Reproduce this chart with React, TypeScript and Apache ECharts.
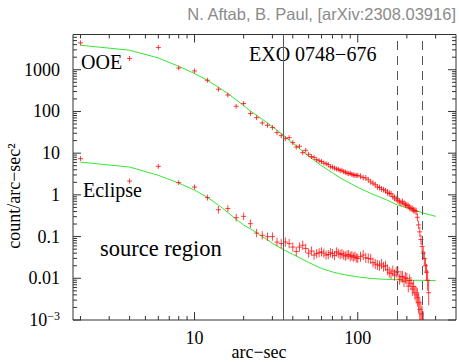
import React, { useEffect, useRef } from "react";
import * as echarts from "echarts";

// Radial bins (arc-sec)
const radii = [
  2, 4, 6, 8, 10, 12, 14, 16, 18, 20,
  22, 24, 26, 28, 30, 32, 34, 36, 38, 40, 42, 44, 46, 48, 50,
  52, 54, 56, 58, 60, 62, 64, 66, 68, 70, 72, 74, 76, 78, 80,
  82, 84, 86, 88, 90, 92, 94, 96, 98, 100,
  104, 108, 112, 116, 120, 124, 128, 132, 136, 140, 144, 148, 152, 156, 160,
  164, 168, 172, 176, 180, 184, 188, 192, 196, 200, 204, 208, 212, 216, 220, 224,
  228, 232, 236, 240, 244, 248, 252, 256, 260, 264, 268, 272,
];

// OOE (out-of-eclipse) surface brightness, count/arc-sec^2
const ooeCounts = [
  4400, 1860, 3410, 1100, 936, 560, 340, 248, 133, 155,
  89, 71, 53, 46.5, 41, 31, 26.3, 22.3, 23.6, 17.9, 14.0, 14.6, 10.3, 11.7, 9.4,
  8.3, 7.9, 7.0, 6.6, 6.3, 5.8, 5.6, 5.3, 4.7, 4.65, 4.4, 4.2, 4.1, 3.8, 3.9,
  3.6, 3.5, 3.3, 3.25, 3.3, 3.1, 3.0, 2.95, 2.9, 2.94,
  2.8, 2.6, 2.55, 2.3, 2.05, 1.9, 1.75, 1.55, 1.5, 1.38, 1.33, 1.25, 1.15, 1.08, 1.05,
  0.92, 0.85, 0.8, 0.74, 0.7, 0.64, 0.68, 0.62, 0.58, 0.56, 0.54, 0.5, 0.47, 0.46, 0.43, 0.42,
  0.4, 0.29, 0.19, 0.13, 0.085, 0.058, 0.04, 0.03, 0.02, 0.014, 0.009, 0.0045,
];
const ooeErrDex = [
  0.02, 0.03, 0.02, 0.03, 0.03, 0.03, 0.03, 0.03, 0.04, 0.04,
  0.04, 0.04, 0.05, 0.05, 0.05, 0.05, 0.05, 0.05, 0.05, 0.05, 0.05, 0.05, 0.06, 0.06, 0.06,
  0.06, 0.06, 0.06, 0.06, 0.06, 0.06, 0.06, 0.06, 0.06, 0.06, 0.06, 0.06, 0.06, 0.06, 0.06,
  0.06, 0.06, 0.06, 0.06, 0.06, 0.06, 0.06, 0.06, 0.06, 0.06,
  0.07, 0.07, 0.07, 0.07, 0.07, 0.07, 0.07, 0.07, 0.07, 0.07, 0.07, 0.07, 0.08, 0.08, 0.08,
  0.08, 0.08, 0.08, 0.08, 0.08, 0.08, 0.08, 0.08, 0.08, 0.08, 0.08, 0.08, 0.08, 0.08, 0.08, 0.08,
  0.09, 0.1, 0.1, 0.12, 0.12, 0.14, 0.15, 0.17, 0.18, 0.2, 0.25, 0.3,
];

// Eclipse surface brightness, count/arc-sec^2
const eclipseCounts = [
  7.4, 2.14, 4.83, 1.96, 1.54, 0.86, 0.44, 0.47, 0.284, 0.305,
  0.204, 0.121, 0.107, 0.099, 0.1, 0.074, 0.068, 0.074, 0.068, 0.056, 0.044, 0.056, 0.062, 0.052, 0.04,
  0.045, 0.036, 0.039, 0.041, 0.043, 0.04, 0.036, 0.037, 0.041, 0.039, 0.035, 0.043, 0.04, 0.037, 0.039,
  0.036, 0.034, 0.036, 0.037, 0.033, 0.035, 0.032, 0.034, 0.031, 0.03,
  0.033, 0.036, 0.031, 0.03, 0.029, 0.024, 0.022, 0.021, 0.02, 0.022, 0.019, 0.02, 0.016, 0.014, 0.013,
  0.015, 0.012, 0.014, 0.0143, 0.0095, 0.011, 0.0108, 0.0085, 0.0102, 0.0098, 0.0065, 0.0088, 0.0076, 0.0055, 0.0063, 0.0045,
  0.004, 0.0035, 0.0026, 0.0018, 0.0014, 0.001, 0.0007, null, null, null, null, null,
];
const eclipseErrDex = [
  0.04, 0.06, 0.05, 0.06, 0.06, 0.07, 0.09, 0.08, 0.09, 0.09,
  0.1, 0.1, 0.1, 0.1, 0.1, 0.1, 0.11, 0.11, 0.11, 0.11, 0.11, 0.11, 0.11, 0.11, 0.11,
  0.11, 0.11, 0.11, 0.11, 0.11, 0.11, 0.11, 0.11, 0.11, 0.11, 0.11, 0.11, 0.11, 0.11, 0.11,
  0.11, 0.11, 0.11, 0.11, 0.11, 0.11, 0.11, 0.11, 0.11, 0.11,
  0.12, 0.12, 0.12, 0.12, 0.12, 0.12, 0.12, 0.12, 0.12, 0.12, 0.12, 0.12, 0.13, 0.13, 0.13,
  0.13, 0.13, 0.13, 0.13, 0.13, 0.14, 0.14, 0.14, 0.14, 0.14, 0.15, 0.15, 0.15, 0.16, 0.16, 0.17,
  0.2, 0.22, 0.25, 0.28, 0.3, 0.33, 0.36, 0, 0, 0, 0, 0,
];

// PSF model curves
const modelRadii = [2, 4, 6, 8, 10, 12, 14, 16, 18, 20, 22, 24, 26, 28, 30, 35, 40, 50, 60, 70, 80, 100, 120, 150, 175, 200, 250, 300];
const ooeModel = [3870, 2940, 1920, 1210, 810, 560, 380, 268, 190, 138, 102, 81, 65, 53, 43, 27, 17.5, 8.4, 5.0, 3.37, 2.42, 1.51, 1.09, 0.76, 0.575, 0.49, 0.37, 0.305];
const eclipseModel = [6.1, 4.65, 2.94, 1.92, 1.3, 0.87, 0.57, 0.38, 0.26, 0.19, 0.152, 0.125, 0.1, 0.083, 0.069, 0.049, 0.0376, 0.024, 0.0172, 0.0142, 0.0125, 0.0108, 0.0099, 0.0094, 0.0092, 0.009, 0.0089, 0.0088];

// Reference lines (arc-sec)
const solidLineRadii = [35];
const dashedLineRadii = [175, 250];

// Axes
const X_MIN = 1.8;
const X_MAX = 400;
const Y_MIN = 0.001;
const Y_MAX = 7000;
const xTickLabels: Record<number, string> = { 1: "10", 2: "100" };
const yTickLabels: Record<number, string> = {
  [-3]: "{e|10}{s|−3}",
  [-2]: "0.01",
  [-1]: "0.1",
  0: "1",
  1: "10",
  2: "100",
  3: "1000",
};
const xMajorTicks = [10, 100];
const xMinorTicks = [2, 3, 4, 5, 6, 7, 8, 9, 20, 30, 40, 50, 60, 70, 80, 90, 200, 300];
const yDecades = [0.001, 0.01, 0.1, 1, 10, 100, 1000];
const minorMultipliers = [2, 3, 4, 5, 6, 7, 8, 9];

const RED = "rgba(255,0,0,0.75)";
const GREEN = "#33e833";
const AXIS = "#333";
const SERIF = "Liberation Serif";

function decadeIndex(v: number): number | null {
  const l = Math.log10(v);
  const r = Math.round(l);
  return Math.abs(l - r) < 1e-6 ? r : null;
}

export default function App() {
  const ref = useRef<HTMLDivElement>(null);

  useEffect(() => {
    if (!ref.current) return;
    const chart = echarts.init(ref.current, undefined, { renderer: "svg" });

    const yMinorTicks: number[] = [];
    yDecades.forEach((d) =>
      minorMultipliers.forEach((m) => {
        const v = d * m;
        if (v < Y_MAX) yMinorTicks.push(v);
      })
    );

    const tickData: number[][] = [
      ...xMajorTicks.map((v) => [v, 1, 1, 0]),
      ...xMinorTicks.map((v) => [v, 1, 0, 0]),
      ...yDecades.map((v) => [10, v, 1, 1]),
      ...yMinorTicks.map((v) => [10, v, 0, 1]),
    ];

    const pointData = (vals: (number | null)[], errs: number[]) =>
      radii
        .map((r, i) => [r, vals[i], errs[i]])
        .filter((d) => d[1] != null) as number[][];

    const errorBarItem = (params: any, api: any) => {
      const x = api.value(0);
      const y = api.value(1);
      const e = api.value(2);
      const c = api.coord([x, y]);
      const hi = api.coord([x, y * Math.pow(10, e)]);
      const lo = api.coord([x, y / Math.pow(10, e)]);
      const half = 2.5;
      const top = Math.min(hi[1], c[1] - half);
      const bot = Math.max(lo[1], c[1] + half);
      const style = { stroke: RED, lineWidth: 1 };
      return {
        type: "group",
        children: [
          { type: "line", shape: { x1: c[0] - half, y1: c[1], x2: c[0] + half, y2: c[1] }, style },
          { type: "line", shape: { x1: c[0], y1: top, x2: c[0], y2: bot }, style },
        ],
      };
    };

    const tickItem = (params: any, api: any) => {
      const v0 = api.value(0);
      const v1 = api.value(1);
      const major = api.value(2);
      const orient = api.value(3);
      const len = major ? 8 : 4;
      const style = { stroke: AXIS, lineWidth: 1 };
      if (orient === 0) {
        const b = api.coord([v0, Y_MIN]);
        const t = api.coord([v0, Y_MAX]);
        return {
          type: "group",
          children: [
            { type: "line", shape: { x1: b[0], y1: b[1], x2: b[0], y2: b[1] - len }, style },
            { type: "line", shape: { x1: t[0], y1: t[1], x2: t[0], y2: t[1] + len }, style },
          ],
        };
      }
      const l = api.coord([X_MIN, v1]);
      const r = api.coord([X_MAX, v1]);
      return {
        type: "group",
        children: [
          { type: "line", shape: { x1: l[0], y1: l[1], x2: l[0] + len, y2: l[1] }, style },
          { type: "line", shape: { x1: r[0], y1: r[1], x2: r[0] - len, y2: r[1] }, style },
        ],
      };
    };

    const option: any = {
      animation: false,
      backgroundColor: "#fff",
      grid: {
        left: 73,
        right: 1,
        top: 34.5,
        bottom: 42,
        show: true,
        borderColor: AXIS,
        borderWidth: 1,
        backgroundColor: "transparent",
      },
      xAxis: {
        type: "log",
        logBase: 10,
        min: X_MIN,
        max: X_MAX,
        axisLine: { show: false },
        axisTick: { show: false },
        splitLine: { show: false },
        axisLabel: {
          margin: 9,
          fontFamily: SERIF,
          fontSize: 18,
          color: "#000",
          showMinLabel: true,
          showMaxLabel: true,
          hideOverlap: false,
          formatter: (v: number) => {
            const d = decadeIndex(v);
            return d != null && xTickLabels[d] ? xTickLabels[d] : "";
          },
        },
      },
      yAxis: {
        type: "log",
        logBase: 10,
        min: Y_MIN,
        max: Y_MAX,
        axisLine: { show: false },
        axisTick: { show: false },
        splitLine: { show: false },
        axisLabel: {
          margin: 13,
          fontFamily: SERIF,
          fontSize: 18,
          color: "#000",
          hideOverlap: false,
          formatter: (v: number) => {
            const d = decadeIndex(v);
            return d != null && yTickLabels[d] ? yTickLabels[d] : "";
          },
          rich: {
            e: { fontFamily: SERIF, fontSize: 18, color: "#000" },
            s: { fontFamily: SERIF, fontSize: 12, color: "#000", verticalAlign: "top", padding: [0, 0, 8, 0] },
          },
        },
      },
      series: [
        {
          type: "custom",
          name: "ticks",
          silent: true,
          clip: false,
          renderItem: tickItem,
          data: tickData,
          encode: { x: 0, y: 1 },
          z: 5,
        },
        {
          type: "line",
          name: "OOE model",
          data: modelRadii.map((r, i) => [r, ooeModel[i]]),
          showSymbol: false,
          lineStyle: { color: GREEN, width: 1 },
          z: 3,
          markLine: {
            silent: true,
            symbol: "none",
            label: { show: false },
            data: [
              ...solidLineRadii.map((r) => ({ xAxis: r, lineStyle: { color: "#555", width: 1, type: "solid" } })),
              ...dashedLineRadii.map((r) => ({ xAxis: r, lineStyle: { color: "#555", width: 1, type: [9, 6] } })),
            ],
          },
        },
        {
          type: "line",
          name: "Eclipse model",
          data: modelRadii.map((r, i) => [r, eclipseModel[i]]),
          showSymbol: false,
          lineStyle: { color: GREEN, width: 1 },
          z: 3,
        },
        {
          type: "custom",
          name: "OOE",
          clip: true,
          renderItem: errorBarItem,
          data: pointData(ooeCounts, ooeErrDex),
          encode: { x: 0, y: 1 },
          z: 4,
        },
        {
          type: "custom",
          name: "Eclipse",
          clip: true,
          renderItem: errorBarItem,
          data: pointData(eclipseCounts, eclipseErrDex),
          encode: { x: 0, y: 1 },
          z: 4,
        },
      ],
      graphic: [
        {
          type: "text",
          x: 456,
          y: 14,
          style: {
            text: "N. Aftab, B. Paul, [arXiv:2308.03916]",
            fontFamily: "Liberation Sans",
            fontSize: 16.5,
            fill: "#8a8a8a",
            align: "right",
            verticalAlign: "middle",
          },
        },
        {
          type: "text",
          x: 249,
          y: 54,
          style: { text: "EXO 0748−676", fontFamily: SERIF, fontSize: 20, fill: "#000", align: "left", verticalAlign: "middle" },
        },
        {
          type: "text",
          x: 81,
          y: 62,
          style: { text: "OOE", fontFamily: SERIF, fontSize: 20, fill: "#000", align: "left", verticalAlign: "middle" },
        },
        {
          type: "text",
          x: 83,
          y: 190,
          style: { text: "Eclipse", fontFamily: SERIF, fontSize: 20, fill: "#000", align: "left", verticalAlign: "middle" },
        },
        {
          type: "text",
          x: 100,
          y: 248,
          style: { text: "source region", fontFamily: SERIF, fontSize: 22.5, fill: "#000", align: "left", verticalAlign: "middle" },
        },
        {
          type: "text",
          x: 259,
          y: 352,
          style: { text: "arc−sec", fontFamily: SERIF, fontSize: 18, fill: "#000", align: "center", verticalAlign: "middle" },
        },
        {
          type: "text",
          x: 14,
          y: 196,
          rotation: Math.PI / 2,
          style: { text: "count/arc−sec²", fontFamily: SERIF, fontSize: 18, fill: "#000", align: "center", verticalAlign: "middle" },
        },
      ],
    };

    chart.setOption(option);
    return () => chart.dispose();
  }, []);

  return (
    <div
      ref={ref}
      style={{ position: "fixed", left: 0, top: 0, width: 459, height: 362, background: "#fff" }}
    />
  );
}
